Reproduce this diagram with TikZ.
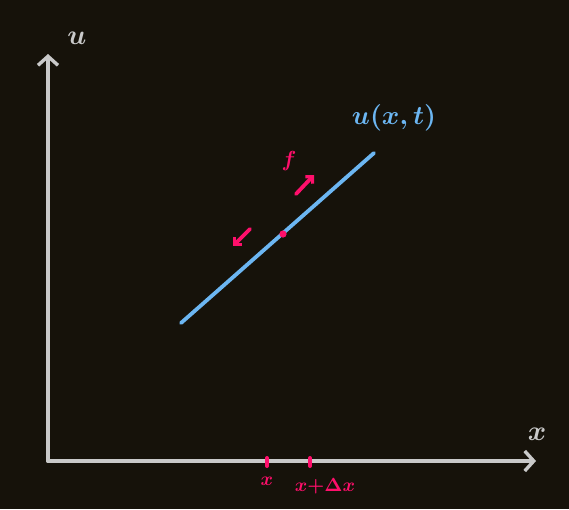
\documentclass[tikz,border=0pt]{standalone}
\usepackage{amsmath}
\usetikzlibrary{arrows.meta}
\definecolor{board}{HTML}{16120A}
\definecolor{chalk}{HTML}{C9C9C9}
\definecolor{wave}{HTML}{6CB6F2}
\definecolor{pinkish}{HTML}{FF0F6B}

\begin{document}
\begin{tikzpicture}[x=1pt,y=-1pt,
>={Straight Barb[length=9pt,width=20pt,line width=3.4pt]},
line cap=round,
every node/.style={inner sep=0pt}]
\tikzstyle{axis} = [draw=chalk, line width=3.8pt]
\tikzstyle{str} = [draw=wave, line width=3.8pt]
\tikzstyle{force} = [draw=pinkish, line width=3.8pt, >={Straight Barb[length=5pt,width=10pt,line width=3.2pt]}]
\tikzstyle{tick} = [draw=pinkish, line width=4pt]
\tikzstyle{lbl} = [font=\boldmath, scale=2.8]
\tikzstyle{small} = [font=\boldmath, scale=1.9, text=pinkish]

\fill[board] (0,0) rectangle (569,509);
\useasboundingbox (0,0) rectangle (569,509);

% axes
\coordinate (O) at (48,461);
\coordinate (utop) at (48,54);
\coordinate (xend) at (536,461);
\draw[axis,->] (O) -- (utop);
\draw[axis,->] (O) -- (xend);
\node[lbl,text=chalk](ulab) at (77,38){$u$};
\node[lbl,text=chalk](xlab) at (537,434){$x$};

% string segment
\coordinate (s0) at (181,323);
\coordinate (s1) at (374,153);
\draw[str] (s0) -- (s1);
\node[lbl,scale=0.95,text=wave](ulbl) at (394,118){$u(x,t)$};
\fill[pinkish] (283,234) circle (3.6pt);

% tension forces
\coordinate (fa) at (296,194);
\coordinate (fb) at (314,175);
\coordinate (fc) at (250,229);
\coordinate (fd) at (233,246);
\draw[force,->] (fa) -- (fb);
\draw[force,->] (fc) -- (fd);
\node[small,scale=1.15](flbl) at (289,161){$f$};

% ticks
\foreach \t/\nm in {267/a,310/b}{
	\draw[tick] (\t,458) -- (\t,466);
}
\node[small](xa) at (267,481){$x$};
\node[small](xb) at (325,486){$x{+}\Delta x$};
\end{tikzpicture}
\end{document}
